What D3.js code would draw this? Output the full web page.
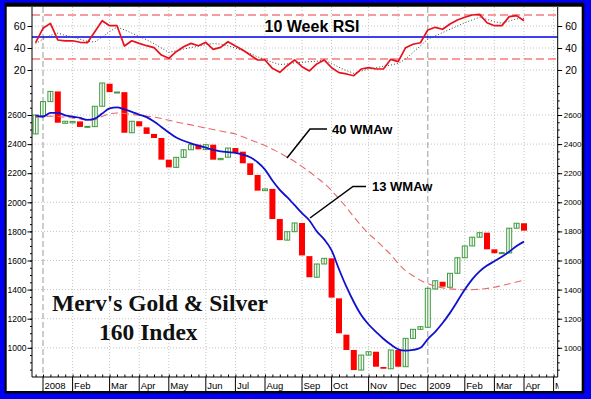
<!DOCTYPE html>
<html>
<head>
<meta charset="utf-8">
<script src="https://cdn.jsdelivr.net/npm/d3@7"></script>
<style>
  body { margin: 0; background: #fff; }
  svg { display: block; }
</style>
</head>
<body>
<div id="chart"></div>
<script>
// weekly bars, index 0 = first week of Jan 2008 (index -1 = last week of 2007)
const firstWeek = -1;

const opens = [2470, 2595, 2692, 2762, 2543, 2546, 2556, 2516, 2520, 2660, 2815, 2752, 2757, 2478, 2557, 2515,
  2470, 2442, 2293, 2240, 2309, 2361, 2396, 2362, 2396, 2293, 2310, 2373, 2348, 2268, 2188, 2080,
  2092, 1885, 1740, 1798, 1858, 1630, 1485, 1576, 1615, 1340, 1090, 985, 847, 950, 973, 868,
  856, 985, 870, 1065, 1127, 1141, 1404, 1454, 1416, 1512, 1619, 1700, 1760, 1791, 1677, 1650,
  1652, 1822, 1856];
const closes = [2600, 2692, 2762, 2547, 2557, 2556, 2518, 2522, 2660, 2820, 2757, 2758, 2478, 2557, 2522, 2470,
  2442, 2293, 2240, 2309, 2361, 2396, 2364, 2396, 2293, 2302, 2373, 2340, 2268, 2188, 2080, 2092,
  1885, 1740, 1798, 1858, 1635, 1485, 1576, 1615, 1345, 1100, 985, 847, 950, 973, 870, 856,
  985, 870, 1065, 1127, 1145, 1409, 1461, 1420, 1512, 1619, 1700, 1760, 1791, 1677, 1650, 1654,
  1822, 1856, 1805];

const wma13 = [2595, 2588, 2615, 2615, 2598, 2588, 2580, 2566, 2575, 2610, 2645, 2652, 2638, 2622, 2603, 2585,
  2555, 2518, 2480, 2445, 2423, 2405, 2390, 2375, 2360, 2350, 2345, 2340, 2328, 2310, 2275, 2225,
  2150, 2085, 2035, 1980, 1925, 1875, 1800, 1745, 1670, 1540, 1420, 1315, 1225, 1160, 1110, 1062,
  1022, 990, 980, 985, 1000, 1060, 1110, 1170, 1240, 1320, 1400, 1470, 1525, 1565, 1595, 1625,
  1660, 1700, 1730];
const wma40 = [2582, 2588, 2592, 2590, 2585, 2580, 2572, 2564, 2568, 2590, 2608, 2614, 2610, 2604, 2598, 2592,
  2586, 2576, 2564, 2552, 2542, 2532, 2521, 2510, 2500, 2490, 2480, 2470, 2450, 2430, 2410, 2390,
  2365, 2340, 2310, 2280, 2245, 2210, 2170, 2130, 2080, 2025, 1965, 1900, 1840, 1785, 1740, 1690,
  1640, 1580, 1530, 1495, 1465, 1440, 1425, 1412, 1405, 1401, 1399, 1400, 1402, 1408, 1416, 1428,
  1440, 1452, 1465];

const rsi = [44.8, 57.9, 62.4, 47.3, 46.4, 46.6, 45.2, 44.8, 54.8, 64.8, 60.3, 60.3, 41.8, 46.6, 44.2, 42.1,
  40.3, 33.6, 30.6, 36.6, 41.2, 44.2, 42.1, 45.2, 38.8, 40.6, 45.7, 41.8, 38.2, 33.6, 29.1, 29.1,
  21.5, 17.9, 23.9, 29.1, 23.0, 19.1, 25.5, 29.1, 22.1, 17.6, 16.4, 14.8, 20.9, 22.1, 20.9, 20.9,
  29.7, 27.6, 40.3, 43.4, 44.8, 56.4, 58.8, 57.0, 61.8, 65.5, 67.9, 70.0, 70.6, 63.0, 60.3, 60.3,
  68.5, 69.4, 64.8];
const rsiAvg = [44, 48, 51.5, 53.5, 51.5, 50, 48, 46, 45.5, 50, 55, 59, 56.5, 53.5, 50.5, 47.5,
  44, 40, 36, 37.5, 39, 40.5, 41.5, 43, 44, 43.5, 42, 40, 37.5, 35, 32, 29.5,
  27, 25, 25.5, 26.5, 27, 27.5, 28, 29, 26, 22.5, 19.5, 17, 19, 21, 22, 23.5,
  24.5, 26, 30, 36, 42, 48, 51, 54, 57, 60, 63, 65.5, 68, 66, 64, 62.5,
  64.5, 66.5, 67];

const monthLabels = ['2008', 'Feb', 'Mar', 'Apr', 'May', 'Jun', 'Jul', 'Aug', 'Sep', 'Oct', 'Nov', 'Dec',
  '2009', 'Feb', 'Mar', 'Apr', 'May'];
const monthWeeks = [0, 4, 9, 13, 17, 22, 26, 30, 35, 39, 44, 48, 52, 57, 61, 65, 69];
const yearWeeks = [0, 52];

const priceTicks = [1000, 1200, 1400, 1600, 1800, 2000, 2200, 2400, 2600];
const priceMinor = d3.range(850, 2850, 50);
const rsiTicks = [20, 40, 60];
const rsiBands = [70, 30];
const rsiMid = 50;

const W = 591, H = 399;
const plotL = 32, plotR = 557.7, plotT = 7, plotB = 377;

const bars = opens.map((o, k) => ({ i: firstWeek + k, open: o, close: closes[k] }));
const weeks = bars.map(d => d.i);

const x = d3.scaleLinear().domain([0, 52]).range([43, 427.8]);
const yP = d3.scaleLinear().domain([1000, 2600]).range([347.8, 115]);
const yR = d3.scaleLinear().domain([20, 60]).range([70, 26]);

const svg = d3.select('#chart').append('svg')
  .attr('width', W).attr('height', H)
  .style('font-family', 'Arial, "Liberation Sans", sans-serif');

// frame
svg.append('rect').attr('width', W).attr('height', H).attr('fill', '#0000f2');
svg.append('rect').attr('x', 4.7).attr('y', 2.7).attr('width', 579.6).attr('height', 390.6).attr('fill', '#000');
svg.append('rect').attr('x', 6.7).attr('y', 6.7).attr('width', 575).attr('height', 384.3).attr('fill', '#fff');

svg.append('clipPath').attr('id', 'plot').append('rect')
  .attr('x', plotL).attr('y', plotT).attr('width', plotR - plotL).attr('height', plotB - plotT);
const plot = svg.append('g').attr('clip-path', 'url(#plot)');

// grid
const grid = plot.append('g').attr('stroke', '#c4c4c4').attr('stroke-dasharray', '1,2').attr('stroke-width', 1);
grid.selectAll('.gp').data(priceTicks).join('line').attr('class', 'gp')
  .attr('x1', plotL).attr('x2', plotR).attr('y1', d => yP(d)).attr('y2', d => yP(d));
grid.selectAll('.gr').data(rsiTicks).join('line').attr('class', 'gr')
  .attr('x1', plotL).attr('x2', plotR).attr('y1', d => yR(d)).attr('y2', d => yR(d));
grid.selectAll('.gm').data(monthWeeks.filter(w => !yearWeeks.includes(w))).join('line').attr('class', 'gm')
  .attr('x1', d => x(d)).attr('x2', d => x(d)).attr('y1', plotT).attr('y2', plotB);
plot.append('g').selectAll('line').data(yearWeeks).join('line')
  .attr('x1', d => x(d)).attr('x2', d => x(d)).attr('y1', plotT).attr('y2', plotB)
  .attr('stroke', '#9a9a9a').attr('stroke-dasharray', '6,3');

// RSI panel
plot.append('g').selectAll('line').data(rsiBands).join('line')
  .attr('x1', plotL).attr('x2', plotR).attr('y1', d => yR(d)).attr('y2', d => yR(d))
  .attr('stroke', '#f03a3a').attr('stroke-width', 1.1).attr('stroke-dasharray', '8,4');
plot.append('line').attr('x1', plotL).attr('x2', plotR).attr('y1', yR(rsiMid)).attr('y2', yR(rsiMid))
  .attr('stroke', '#0000ee').attr('stroke-width', 1.4);

svg.append('text').attr('x', 312).attr('y', 32).attr('text-anchor', 'middle')
  .attr('font-size', 16).attr('font-weight', 'bold').text('10 Week RSI');

const rsiLine = d3.line().x((d, k) => x(weeks[k])).y(d => yR(d));
plot.append('path').datum(rsiAvg).attr('d', rsiLine).attr('fill', 'none')
  .attr('stroke', '#444').attr('stroke-width', 1).attr('stroke-dasharray', '1,2');
plot.append('path').datum(rsi).attr('d', rsiLine).attr('fill', 'none')
  .attr('stroke', '#e8101c').attr('stroke-width', 1.7).attr('stroke-linejoin', 'round');

// candles
const bw = 5;
const cg = plot.append('g');
cg.selectAll('rect.dn').data(bars.filter(d => d.close < d.open)).join('rect').attr('class', 'dn')
  .attr('x', d => x(d.i) - bw / 2 - 0.5).attr('width', bw + 1)
  .attr('y', d => yP(d.open)).attr('height', d => Math.max(1.5, yP(d.close) - yP(d.open)))
  .attr('fill', '#ff0000');
const ups = bars.filter(d => d.close >= d.open);
cg.selectAll('rect.up').data(ups).join('rect').attr('class', 'up')
  .attr('x', d => x(d.i) - bw / 2).attr('width', bw)
  .attr('y', d => yP(d.close)).attr('height', d => Math.max(1, yP(d.open) - yP(d.close)))
  .attr('fill', '#fff').attr('stroke', '#3d9a3d').attr('stroke-width', 1);
cg.selectAll('line.up').data(ups).join('line').attr('class', 'up')
  .attr('x1', d => x(d.i)).attr('x2', d => x(d.i))
  .attr('y1', d => yP(d.close)).attr('y2', d => yP(d.open))
  .attr('stroke', '#3d9a3d').attr('stroke-width', 1);

// moving averages
const priceLine = d3.line().x((d, k) => x(weeks[k])).y(d => yP(d)).curve(d3.curveMonotoneX);
plot.append('path').datum(wma40).attr('d', priceLine).attr('fill', 'none')
  .attr('stroke', '#e86a6a').attr('stroke-width', 1.1).attr('stroke-dasharray', '7,4');
plot.append('path').datum(wma13).attr('d', priceLine).attr('fill', 'none')
  .attr('stroke', '#1010d0').attr('stroke-width', 1.8);

// annotations
const notes = svg.append('g').attr('font-size', 13).attr('font-weight', 'bold');
notes.append('polyline').attr('points', '287,158 310,129 327,129')
  .attr('fill', 'none').attr('stroke', '#000').attr('stroke-width', 1.5);
notes.append('text').attr('x', 332).attr('y', 133.5).text('40 WMAw');
notes.append('polyline').attr('points', '310,218 353,186.5 366,186.5')
  .attr('fill', 'none').attr('stroke', '#000').attr('stroke-width', 1.5);
notes.append('text').attr('x', 372).attr('y', 191).text('13 WMAw');

const title = svg.append('g').attr('font-family', '"Times New Roman", "Liberation Serif", serif')
  .attr('font-weight', 'bold').attr('font-size', 23.5).attr('fill', '#111');
title.append('text').attr('x', 52).attr('y', 310.5).text("Merv's Gold & Silver");
title.append('text').attr('x', 99).attr('y', 340).text('160 Index');

// axes
const ax = svg.append('g').attr('stroke', '#000');
ax.append('line').attr('x1', plotL).attr('x2', plotL).attr('y1', plotT).attr('y2', plotB);
ax.append('line').attr('x1', plotR).attr('x2', plotR).attr('y1', plotT).attr('y2', plotB);
ax.append('line').attr('x1', plotL).attr('x2', plotR).attr('y1', plotB).attr('y2', plotB);

function styleAxis(g) {
  g.select('.domain').remove();
  g.selectAll('line').attr('stroke', '#000');
  g.selectAll('text').attr('fill', '#000').style('font-family', 'Arial, "Liberation Sans", sans-serif');
}

svg.append('g').attr('transform', `translate(${plotL},0)`)
  .call(d3.axisLeft(yP).tickValues(priceMinor).tickSize(2).tickFormat('')).call(styleAxis)
  .selectAll('.tick').filter(d => yP(d) < 80).remove();
svg.append('g').attr('transform', `translate(${plotR},0)`)
  .call(d3.axisRight(yP).tickValues(priceMinor).tickSize(2).tickFormat('')).call(styleAxis)
  .selectAll('.tick').filter(d => yP(d) < 80).remove();

svg.append('g').attr('transform', `translate(${plotL},0)`)
  .call(d3.axisLeft(yP).tickValues(priceTicks).tickSize(4.5).tickPadding(1).tickFormat(d3.format('d')))
  .call(styleAxis).attr('font-size', 8.5);
svg.append('g').attr('transform', `translate(${plotR},0)`)
  .call(d3.axisRight(yP).tickValues(priceTicks).tickSize(4.5).tickPadding(1.5).tickFormat(d3.format('d')))
  .call(styleAxis).attr('font-size', 8);

svg.append('g').attr('transform', `translate(${plotL},0)`)
  .call(d3.axisLeft(yR).tickValues(rsiTicks).tickSize(4.5).tickPadding(2))
  .call(styleAxis).attr('font-size', 10.5);
svg.append('g').attr('transform', `translate(${plotR},0)`)
  .call(d3.axisRight(yR).tickValues(rsiTicks).tickSize(4.5).tickPadding(3))
  .call(styleAxis).attr('font-size', 10.5);

// x axis: weekly minor ticks, month separators and labels
const allWeeks = d3.range(firstWeek, 70);
svg.append('g').attr('transform', `translate(0,${plotB})`)
  .call(d3.axisBottom(x).tickValues(allWeeks.filter(w => x(w) > plotL && x(w) < plotR)).tickSize(-2.5).tickFormat(''))
  .call(styleAxis);

svg.append('clipPath').attr('id', 'xlab').append('rect')
  .attr('x', 7).attr('y', plotB).attr('width', plotR + 1 - 7).attr('height', 15);
const months = monthWeeks.map((w, k) => ({ w, label: monthLabels[k] }));
const xg = svg.append('g').attr('clip-path', 'url(#xlab)');
xg.selectAll('line').data(months).join('line')
  .attr('x1', d => x(d.w)).attr('x2', d => x(d.w)).attr('y1', plotB).attr('y2', 391)
  .attr('stroke', '#000');
xg.selectAll('text').data(months).join('text')
  .attr('x', d => x(d.w) + 1.5).attr('y', 389).attr('font-size', 9.5).attr('fill', '#000')
  .text(d => d.label);
</script>
</body>
</html>
